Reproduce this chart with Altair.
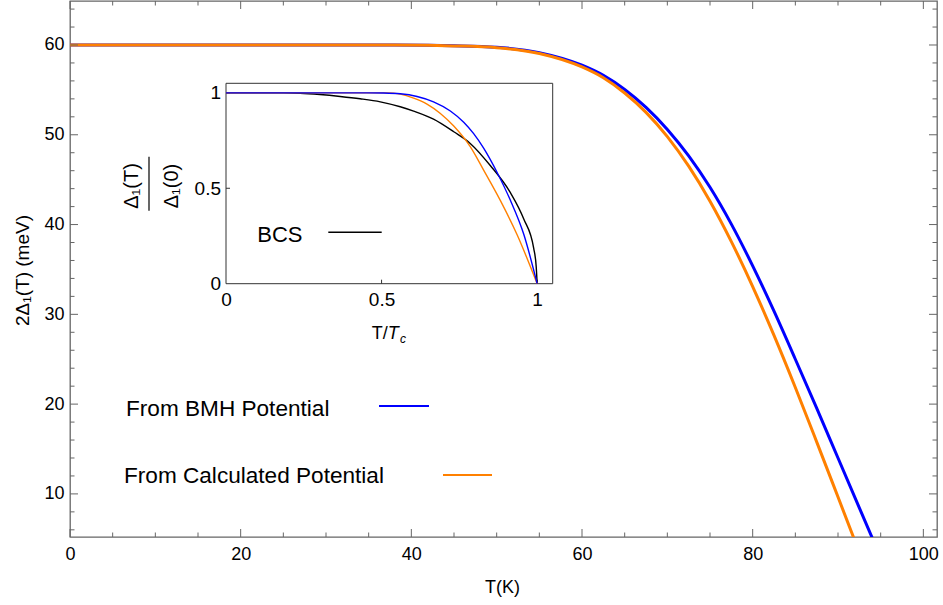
import altair as alt
import pandas as pd

# ---------------- data ----------------
# main panel: 2*Delta_1(T) in meV vs T in K
T_bmh = [0, 10, 20, 30, 38, 42, 45, 50, 55, 60, 62.5, 65, 67.5, 70, 72.5, 75, 77.5, 80, 82.5, 85, 87.5, 90, 92.5, 95.5]
D_bmh = [60, 60, 60, 60, 59.99, 59.97, 59.92, 59.75, 59.15, 57.75, 56.62, 55.05, 53.05, 50.6, 47.65, 44.15, 40.05, 35.4, 30.35, 25.0, 19.55, 14.0, 8.45, 1.79]

T_calc = [0, 10, 20, 30, 38, 42, 45, 50, 55, 60, 62.5, 65, 67.5, 70, 72.5, 75, 77.5, 80, 82.5, 85, 87.5, 90, 92.5, 94]
D_calc = [60, 60, 60, 60, 59.99, 59.96, 59.9, 59.7, 59.05, 57.55, 56.35, 54.65, 52.5, 49.8, 46.5, 42.6, 38.1, 33.1, 27.65, 21.85, 15.8, 9.65, 3.48, -0.23]

# inset: Delta_1(T)/Delta_1(0) vs T/Tc
t_bcs = [0, 0.185, 0.238, 0.302, 0.367, 0.431, 0.496, 0.56, 0.603, 0.667, 0.732, 0.785, 0.85, 0.914, 0.957, 0.989, 0.997, 1.0]
d_bcs = [1, 1, 0.998, 0.991, 0.981, 0.969, 0.953, 0.927, 0.904, 0.862, 0.796, 0.735, 0.618, 0.477, 0.339, 0.185, 0.089, 0]

t_in_bmh = [0, 0.3, 0.453, 0.506, 0.56, 0.614, 0.667, 0.721, 0.764, 0.796, 0.828, 0.871, 0.914, 0.957, 1.0]
d_in_bmh = [1, 1, 1, 0.999, 0.995, 0.981, 0.953, 0.905, 0.846, 0.786, 0.710, 0.584, 0.437, 0.259, 0]

t_in_calc = [0, 0.3, 0.453, 0.517, 0.56, 0.603, 0.646, 0.689, 0.732, 0.785, 0.828, 0.882, 0.936, 1.0]
d_in_calc = [1, 1, 1, 1, 0.993, 0.972, 0.941, 0.892, 0.826, 0.718, 0.595, 0.435, 0.255, 0]

# ticks
x_major = [0, 20, 40, 60, 80, 100]
x_minor = [5, 10, 15, 25, 30, 35, 45, 50, 55, 65, 70, 75, 85, 90, 95]
y_major = [10, 20, 30, 40, 50, 60]
y_minor = [6, 8, 12, 14, 16, 18, 22, 24, 26, 28, 32, 34, 36, 38, 42, 44, 46, 48, 52, 54, 56, 58, 62, 64]
inset_labels = [0, 0.5, 1]
inset_ticks = [0.5, 1]

# texts
legend_labels = ["From BMH Potential", "From Calculated Potential"]
bcs_label = ["BCS"]
frac_num = ["Δ₁(T)"]
frac_den = ["Δ₁(0)"]
xin_title = ["T/", "T", "c"]
x_title = "T(K)"
y_title = "2Δ₁(T) (meV)"

x_domain = [0, 101.6]
y_domain = [5.2, 64.9]
in_domain = [0, 1.05]

# ---------------- styling ----------------
W, H = 867, 536
FONT = "Liberation Sans"
BLUE = "#0000ff"
ORANGE = "#ff8000"
FRAME = "#666666"

xs = alt.Scale(domain=x_domain, nice=False, zero=False)
ys = alt.Scale(domain=y_domain, nice=False, zero=False)

xaxis = alt.Axis(orient="bottom", values=x_major, format="d", title=x_title,
                 ticks=False, tickSize=0, domain=False, grid=False,
                 labelFontSize=18, labelPadding=22, labelBaseline="alphabetic",
                 labelFlush=False, labelOverlap=False,
                 titleFontSize=18, titleFontWeight="normal",
                 titleX=432, titleY=55.7, titleBaseline="alphabetic", titleAlign="center")
yaxis = alt.Axis(orient="left", values=y_major, format="d", title=y_title,
                 ticks=False, tickSize=0, domain=False, grid=False,
                 labelFontSize=18, labelPadding=6, labelFlush=False, labelOverlap=False,
                 titleFontSize=19, titleFontWeight="normal", titleAngle=270,
                 titleX=-48, titleY=269, titleBaseline="middle", titleAlign="center")

IX0, IX1 = 156, 482.7
IYB, IYT = 282.7, 82.3
ixs = alt.Scale(domain=in_domain, range=[IX0, IX1], nice=False, zero=False)
iys = alt.Scale(domain=in_domain, range=[IYB, IYT], nice=False, zero=False)
ixaxis = alt.Axis(orient="bottom", offset=-(H - IYB), values=inset_labels, format="~g", title=None,
                  ticks=False, tickSize=0, domain=False, grid=False,
                  labelFontSize=19, labelPadding=21.3, labelBaseline="alphabetic",
                  labelFlush=False, labelOverlap=False)
iyaxis = alt.Axis(orient="left", offset=-IX0, values=inset_labels, format="~g", title=None,
                  ticks=False, tickSize=0, domain=False, grid=False,
                  labelFontSize=19, labelPadding=5.5, labelFlush=False, labelOverlap=False)

# ---------------- main panel ----------------
df_bmh = pd.DataFrame({"T": T_bmh, "D": D_bmh})
df_calc = pd.DataFrame({"T": T_calc, "D": D_calc})

def main_line(df, color):
    return alt.Chart(df).mark_line(color=color, strokeWidth=3, clip=True,
                                   interpolate="monotone").encode(
        x=alt.X("T:Q", scale=xs, axis=xaxis),
        y=alt.Y("D:Q", scale=ys, axis=yaxis))

def xticks(vals, length):
    d = pd.DataFrame({"T": vals})
    bottom = alt.Chart(d).mark_rule(color=FRAME, strokeWidth=1).encode(
        x=alt.X("T:Q", scale=xs, axis=xaxis), y=alt.value(H), y2=alt.value(H - length))
    top = alt.Chart(d).mark_rule(color=FRAME, strokeWidth=1).encode(
        x=alt.X("T:Q", scale=xs, axis=xaxis), y=alt.value(0), y2=alt.value(length))
    return [bottom, top]

def yticks(vals, length):
    d = pd.DataFrame({"D": vals})
    left = alt.Chart(d).mark_rule(color=FRAME, strokeWidth=1).encode(
        y=alt.Y("D:Q", scale=ys, axis=yaxis), x=alt.value(0), x2=alt.value(length))
    right = alt.Chart(d).mark_rule(color=FRAME, strokeWidth=1).encode(
        y=alt.Y("D:Q", scale=ys, axis=yaxis), x=alt.value(W), x2=alt.value(W - length))
    return [left, right]

def label(text_list, x, y, size, **kw):
    d = pd.DataFrame({"label": text_list})
    return alt.Chart(d).mark_text(font=FONT, fontSize=size, color="black", **kw).encode(
        x=alt.value(x), y=alt.value(y), text="label:N")

def segment(x1, x2, y, color, width):
    d = pd.DataFrame({"label": ["seg"]})
    return alt.Chart(d).mark_rule(color=color, strokeWidth=width).encode(
        x=alt.value(x1), x2=alt.value(x2), y=alt.value(y))

main_layers = [main_line(df_bmh, BLUE), main_line(df_calc, ORANGE)]
main_layers += xticks(x_major, 8) + xticks(x_minor, 4.5)
main_layers += yticks(y_major, 8) + yticks(y_minor, 4.5)
main_layers += [
    label([legend_labels[0]], 56, 415, 22.6, align="left", baseline="alphabetic"),
    label([legend_labels[1]], 54, 481.7, 22.6, align="left", baseline="alphabetic"),
    segment(309, 359, 405, BLUE, 2.2),
    segment(373, 422, 474, ORANGE, 2.2),
]
main = alt.layer(*main_layers)

# ---------------- inset ----------------
def inset_line(ts, ds, color):
    d = pd.DataFrame({"t": ts, "d": ds})
    return alt.Chart(d).mark_line(color=color, strokeWidth=1.4, interpolate="monotone").encode(
        x=alt.X("t:Q", scale=ixs, axis=ixaxis),
        y=alt.Y("d:Q", scale=iys, axis=iyaxis))

df_frame = pd.DataFrame({"x0": [in_domain[0]], "x1": [in_domain[1]],
                         "y0": [in_domain[0]], "y1": [in_domain[1]]})
inset_frame = alt.Chart(df_frame).mark_rect(filled=False, stroke="#333333", strokeWidth=1).encode(
    x=alt.X("x0:Q", scale=ixs, axis=ixaxis), x2="x1",
    y=alt.Y("y0:Q", scale=iys, axis=iyaxis), y2="y1")

df_it = pd.DataFrame({"t": inset_ticks})
inset_xt = alt.Chart(df_it).mark_rule(color="#333333", strokeWidth=1).encode(
    x=alt.X("t:Q", scale=ixs, axis=ixaxis), y=alt.value(IYB), y2=alt.value(IYB - 4))
df_iyt = pd.DataFrame({"d": inset_ticks})
inset_yt = alt.Chart(df_iyt).mark_rule(color="#333333", strokeWidth=1).encode(
    y=alt.Y("d:Q", scale=iys, axis=iyaxis), x=alt.value(IX0), x2=alt.value(IX0 + 4))

inset_layers = [
    inset_frame, inset_xt, inset_yt,
    inset_line(t_bcs, d_bcs, "black"),
    inset_line(t_in_calc, d_in_calc, ORANGE),
    inset_line(t_in_bmh, d_in_bmh, BLUE),
    label(bcs_label, 187.3, 241.3, 22, align="left", baseline="alphabetic"),
    segment(258.3, 311.7, 231.3, "black", 1.6),
    label(frac_num, 61.5, 185, 20, align="center", baseline="middle", angle=270),
    label(frac_den, 101.5, 185, 20, align="center", baseline="middle", angle=270),
    segment(79, 79, 155.7, "black", 1.2).encode(y2=alt.value(209.7)),
    label([xin_title[0]], 301.7, 338.3, 18, align="left", baseline="alphabetic"),
    label([xin_title[1]], 317.7, 338.3, 18, align="left", baseline="alphabetic", fontStyle="italic"),
    label([xin_title[2]], 330, 341.5, 12, align="left", baseline="alphabetic", fontStyle="italic"),
]
inset = alt.layer(*inset_layers)

chart = alt.layer(main, inset).resolve_scale(
    x="independent", y="independent"
).properties(
    width=W, height=H,
    padding={"left": 70, "top": 1, "right": 6, "bottom": 68},
    autosize=alt.AutoSizeParams(type="none"),
    background="white",
).configure_view(
    stroke=FRAME, strokeWidth=1.3
).configure_axis(
    labelFont=FONT, titleFont=FONT, labelColor="black", titleColor="black"
)

chart.save("out.html", embed_options={"renderer": "svg", "actions": False})
